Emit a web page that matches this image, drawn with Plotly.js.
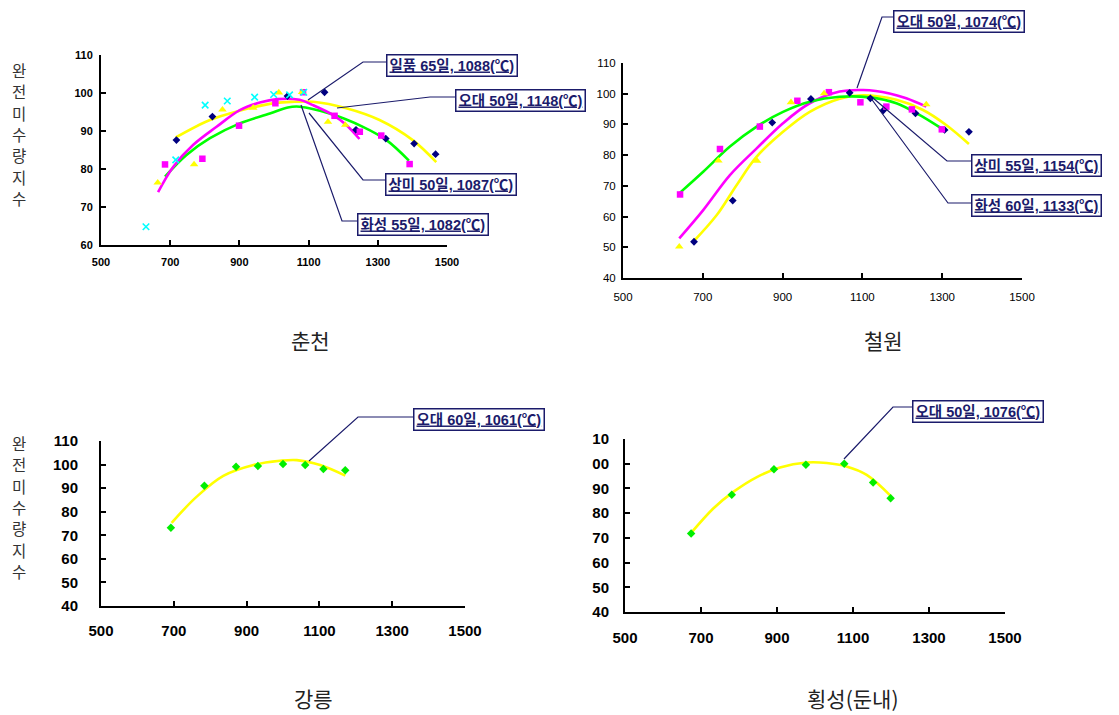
<!DOCTYPE html>
<html><head><meta charset="utf-8">
<script src="https://cdn.plot.ly/plotly-3.0.1.min.js"></script>
<style>html,body{margin:0;padding:0;background:#fff}#chart{width:1119px;height:715px}</style>
</head><body><div id="chart"></div>
<script>
// ===== 춘천 (Chuncheon) =====
const cc_diamond_x = [718, 822, 1039, 1146, 1237, 1323, 1405, 1467];
const cc_diamond_y = [87.6, 93.8, 99.2, 100.2, 90.3, 88.0, 86.7, 83.9];
const cc_square_x = [685, 793, 899, 1004, 1084, 1175, 1248, 1310, 1392];
const cc_square_y = [81.2, 82.7, 91.4, 97.3, 100.2, 94.0, 89.8, 88.8, 81.3];
const cc_triangle_x = [664, 769, 851, 940, 1014, 1081, 1156, 1206];
const cc_triangle_y = [76.4, 81.2, 95.6, 96.1, 100.1, 100.2, 92.4, 91.6];
const cc_cross_x = [630, 716, 801, 865, 944, 999, 1045, 1086];
const cc_cross_y = [64.8, 82.4, 96.8, 97.9, 98.9, 99.6, 99.5, 100.2];
const cc_yellow_x = [716, 815, 900, 1005, 1060, 1113, 1209, 1305, 1401, 1469];
const cc_yellow_y = [88.3, 92.9, 95.3, 97.4, 97.7, 97.7, 96.0, 92.9, 87.6, 81.8];
const cc_magenta_x = [665, 709, 766, 834, 901, 959, 1010, 1074, 1113, 1171, 1209, 1247];
const cc_magenta_y = [73.9, 80.6, 86.3, 91.1, 95.5, 97.5, 98.4, 98.2, 96.8, 94.2, 91.6, 87.9];
const cc_green_x = [685, 747, 815, 901, 988, 1040, 1074, 1161, 1257, 1325, 1390];
const cc_green_y = [78.0, 83.7, 88.1, 92.0, 94.6, 96.2, 96.4, 94.6, 91.1, 87.6, 82.2];

// ===== 철원 (Cheorwon) =====
const cw_square_x = [643, 743, 843, 937, 1016, 1095, 1160, 1224, 1299];
const cw_square_y = [67.2, 82.0, 89.3, 97.7, 100.5, 97.2, 95.8, 94.9, 88.4];
const cw_diamond_x = [678, 775, 874, 971, 1068, 1120, 1152, 1233, 1306, 1367];
const cw_diamond_y = [51.8, 65.2, 90.6, 98.3, 100.3, 98.5, 94.5, 93.6, 88.2, 87.6];
const cw_triangle_x = [641, 739, 836, 921, 1004, 1260];
const cw_triangle_y = [50.2, 78.2, 78.1, 97.2, 100.1, 96.5];
const cw_green_x = [643, 701, 768, 835, 901, 968, 1043, 1118, 1185, 1243, 1298];
const cw_green_y = [67.8, 74.6, 82.8, 89.3, 94.1, 97.4, 99.0, 98.8, 96.9, 93.1, 88.7];
const cw_magenta_x = [641, 701, 768, 835, 901, 968, 1043, 1102, 1168, 1210, 1260];
const cw_magenta_y = [52.9, 62.1, 73.5, 82.2, 90.4, 96.9, 100.7, 101.2, 100.1, 98.5, 95.8];
const cw_yellow_x = [676, 735, 785, 835, 901, 968, 1043, 1102, 1185, 1252, 1310, 1367];
const cw_yellow_y = [51.8, 60.5, 70.3, 79.5, 87.6, 94.1, 98.4, 99.5, 98.0, 94.7, 89.8, 83.6];

// ===== 강릉 (Gangneung) =====
const gn_x = [692, 784, 871, 931, 1000, 1061, 1111, 1171];
const gn_y = [73.2, 91.0, 99.1, 99.4, 100.2, 99.8, 98.1, 97.6];
const gn_curve_x = [694, 763, 836, 919, 992, 1038, 1102, 1171];
const gn_curve_y = [75.3, 86.4, 95.2, 99.8, 101.6, 101.9, 99.8, 95.3];

// ===== 횡성(둔내) (Hoengseong) =====
const hs_x = [674, 781, 892, 976, 1077, 1153, 1199];
const hs_y = [71.8, 87.4, 97.8, 99.6, 100.0, 92.4, 86.0];
const hs_curve_x = [674, 733, 786, 847, 908, 978, 1031, 1083, 1136, 1199];
const hs_curve_y = [72.0, 82.0, 88.7, 94.6, 98.5, 100.5, 100.3, 98.9, 95.5, 87.0];

// ===== Text =====
const xTicks = [500, 700, 900, 1100, 1300, 1500];
const panelTitles = ['춘천', '철원', '강릉', '횡성(둔내)'];
const yTitle = '완전미수량지수';
const hsTickText = ['40', '50', '60', '70', '80', '90', '00', '10'];
const calloutLabels = [
  '일품 65일, 1088(℃)', '오대 50일, 1148(℃)', '상미 50일, 1087(℃)', '화성 55일, 1082(℃)',
  '오대 50일, 1074(℃)', '상미 55일, 1154(℃)', '화성 60일, 1133(℃)',
  '오대 60일, 1061(℃)', '오대 50일, 1076(℃)'
];

// ===== Layout helpers =====
const W = 1119, H = 715;
const px = v => v / W, py = v => 1 - v / H;
const NAVY = '#1b1b6b';
const KR = 'Noto Sans CJK KR';

function lineTrace(x, y, color, ax) {
  return {x, y, mode: 'lines', line: {color, width: 2.6, shape: 'spline', smoothing: 1},
    xaxis: 'x' + ax, yaxis: 'y' + ax, hoverinfo: 'skip'};
}
function markTrace(x, y, symbol, color, size, ax, lw) {
  const m = {symbol, color, size};
  if (lw) m.line = {color, width: lw};
  else m.line = {width: 0};
  return {x, y, mode: 'markers', marker: m, xaxis: 'x' + ax, yaxis: 'y' + ax};
}

const data = [
  lineTrace(cc_green_x, cc_green_y, '#00FF00', ''),
  lineTrace(cc_yellow_x, cc_yellow_y, '#FFFF00', ''),
  lineTrace(cc_magenta_x, cc_magenta_y, '#FF00FF', ''),
  markTrace(cc_diamond_x, cc_diamond_y, 'diamond', '#000080', 6, ''),
  markTrace(cc_square_x, cc_square_y, 'square', '#FF00FF', 6.5, ''),
  markTrace(cc_triangle_x, cc_triangle_y, 'triangle-up', '#FFFF00', 7.5, ''),
  markTrace(cc_cross_x, cc_cross_y, 'x-thin-open', '#00FFFF', 6.5, '', 1.6),

  lineTrace(cw_yellow_x, cw_yellow_y, '#FFFF00', '2'),
  lineTrace(cw_magenta_x, cw_magenta_y, '#FF00FF', '2'),
  lineTrace(cw_green_x, cw_green_y, '#00FF00', '2'),
  markTrace(cw_diamond_x, cw_diamond_y, 'diamond', '#000080', 6, '2'),
  markTrace(cw_square_x, cw_square_y, 'square', '#FF00FF', 6.5, '2'),
  markTrace(cw_triangle_x, cw_triangle_y, 'triangle-up', '#FFFF00', 7.5, '2'),

  lineTrace(gn_curve_x, gn_curve_y, '#FFFF00', '3'),
  markTrace(gn_x, gn_y, 'diamond', '#00EE00', 6.5, '3'),

  lineTrace(hs_curve_x, hs_curve_y, '#FFFF00', '4'),
  markTrace(hs_x, hs_y, 'diamond', '#00EE00', 6.5, '4')
];

function xa(d, font, standoff, anchor) {
  return {domain: [px(d[0]), px(d[1])], range: [500, 1500], tickvals: xTicks,
    showline: true, linecolor: '#000', linewidth: 2, ticks: 'inside', ticklen: 5,
    tickwidth: 2, tickcolor: '#000', showgrid: false, zeroline: false, tickfont: font,
    ticklabelstandoff: standoff, anchor, fixedrange: true};
}
function ya(d, range, font, standoff, anchor, ticktext) {
  const vals = [];
  for (let v = range[0]; v <= range[1]; v += 10) vals.push(v);
  const a = {domain: [py(d[1]), py(d[0])], range, tickvals: vals,
    showline: true, linecolor: '#000', linewidth: 2, ticks: 'inside', ticklen: 5,
    tickwidth: 2, tickcolor: '#000', showgrid: false, zeroline: false, tickfont: font,
    ticklabelstandoff: standoff, anchor, fixedrange: true};
  if (ticktext) a.ticktext = ticktext;
  return a;
}
const fTL = {family: 'Liberation Sans, Arial', size: 11, color: '#000', weight: 'bold'};
const fTR = {family: 'Liberation Sans, Arial', size: 11.5, color: '#000'};
const fB = {family: 'Liberation Sans, Arial', size: 15, color: '#000', weight: 'bold'};

const layout = {
  width: W, height: H, margin: {l: 0, r: 0, t: 0, b: 0},
  paper_bgcolor: '#fff', plot_bgcolor: 'rgba(0,0,0,0)', showlegend: false,
  xaxis: xa([101, 447], fTL, 6, 'y'),
  yaxis: ya([55, 245], [60, 110], fTL, 4, 'x'),
  xaxis2: xa([623, 1022], fTR, 7, 'y2'),
  yaxis2: ya([63, 278], [40, 110], fTR, 3, 'x2'),
  xaxis3: xa([101, 465], fB, 10, 'y3'),
  yaxis3: ya([441, 606], [40, 110], fB, 18, 'x3'),
  xaxis4: xa([625, 1005], fB, 11, 'y4'),
  yaxis4: ya([439, 612], [40, 110], fB, 11, 'x4', hsTickText),
  shapes: [], annotations: []
};

// callout boxes (left px, center py) and leader paths (pixel points)
const boxPos = [[386, 65], [455, 100], [385, 184], [357, 224], [893, 21], [971, 165], [971, 206], [413, 419], [912, 411]];
const leaders = [
  [[308, 100], [363, 62], [386, 62]],
  [[337, 108], [430, 97], [455, 97]],
  [[309, 113], [363, 180], [385, 180]],
  [[301, 105], [342, 221], [357, 221]],
  [[857, 88], [882, 17], [893, 17]],
  [[873, 98], [947, 161], [971, 161]],
  [[870, 97], [948, 203], [971, 203]],
  [[309, 461], [358, 417], [413, 417]],
  [[844, 459], [893, 407], [912, 407]]
];
leaders.forEach(l => {
  const path = l.map((p, i) => (i ? 'L' : 'M') + px(p[0]).toFixed(5) + ',' + py(p[1]).toFixed(5)).join(' ');
  layout.shapes.push({type: 'path', xref: 'paper', yref: 'paper', path, line: {color: NAVY, width: 1.2}});
});
calloutLabels.forEach((t, i) => {
  layout.annotations.push({xref: 'paper', yref: 'paper', x: px(boxPos[i][0]), y: py(boxPos[i][1]),
    xanchor: 'left', yanchor: 'middle', showarrow: false, text: '<b><u>' + t + '</u></b>',
    font: {family: 'Liberation Sans, ' + KR, size: 14.5, color: NAVY}, bgcolor: '#fff', bordercolor: NAVY,
    borderwidth: 1.5, borderpad: 2});
});
const titlePos = [[310, 340], [883, 340], [313, 698], [852, 698]];
panelTitles.forEach((t, i) => {
  layout.annotations.push({xref: 'paper', yref: 'paper', x: px(titlePos[i][0]), y: py(titlePos[i][1]),
    xanchor: 'center', yanchor: 'middle', showarrow: false, text: t,
    font: {family: KR, size: 21, color: '#222'}});
});
// vertical stacked y-axis titles, one character per annotation
[[19, 70], [19, 443]].forEach(p => {
  yTitle.split('').forEach((ch, k) => {
    layout.annotations.push({xref: 'paper', yref: 'paper', x: px(p[0]), y: py(p[1] + k * 21.3),
      xanchor: 'center', yanchor: 'middle', showarrow: false, text: ch,
      font: {family: KR, size: 15.5, color: '#333'}});
  });
});

Plotly.newPlot('chart', data, layout, {staticPlot: true, displayModeBar: false});
</script></body></html>
